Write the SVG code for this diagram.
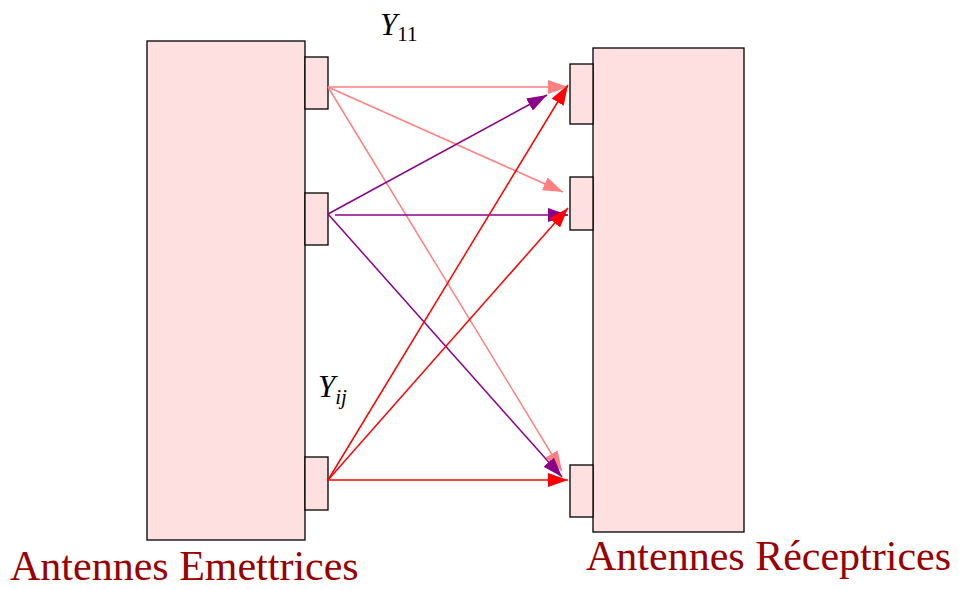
<svg xmlns="http://www.w3.org/2000/svg" width="959" height="590" viewBox="0 0 959 590">
<style>
.box{fill:#FFE0E0;stroke:#000;stroke-width:1.3}
.pk{stroke:#FF8080;stroke-width:1.5;fill:none}
.pu{stroke:#8B008B;stroke-width:1.5;fill:none}
.rd{stroke:#FF0000;stroke-width:1.5;fill:none}
.lbl{font-family:"Liberation Serif",serif;font-size:42px;fill:#990000}
.math{font-family:"Liberation Serif",serif;font-style:italic;fill:#000}
</style>
<defs>
<marker id="apk" markerUnits="userSpaceOnUse" markerWidth="22" markerHeight="14" refX="20" refY="7" orient="auto"><path d="M0,0 L20,7 L0,14 Z" fill="#FF8080"/></marker>
<marker id="apu" markerUnits="userSpaceOnUse" markerWidth="22" markerHeight="14" refX="20" refY="7" orient="auto"><path d="M0,0 L20,7 L0,14 Z" fill="#8B008B"/></marker>
<marker id="ard" markerUnits="userSpaceOnUse" markerWidth="22" markerHeight="14" refX="20" refY="7" orient="auto"><path d="M0,0 L20,7 L0,14 Z" fill="#FF0000"/></marker>
</defs>
<g id="emetteurs">
<rect class="box" x="147" y="41" width="158" height="499"/>
<rect class="box" x="305" y="57" width="23" height="52"/>
<rect class="box" x="305" y="193" width="23" height="52"/>
<rect class="box" x="305" y="457" width="23" height="53"/>
</g>
<g id="recepteurs">
<rect class="box" x="593" y="48" width="151" height="484"/>
<rect class="box" x="570" y="64" width="23" height="60"/>
<rect class="box" x="570" y="177" width="23" height="53"/>
<rect class="box" x="570" y="465" width="23" height="52"/>
</g>
<g id="connectors">
<line class="pk" x1="328" y1="87" x2="568" y2="87" marker-end="url(#apk)"/>
<line class="pk" x1="328" y1="87" x2="563" y2="192" marker-end="url(#apk)"/>
<line class="pk" x1="328" y1="87" x2="562" y2="471" marker-end="url(#apk)"/>
<line class="pu" x1="328" y1="214" x2="547" y2="95" marker-end="url(#apu)"/>
<line class="pu" x1="335" y1="215" x2="568" y2="215" marker-end="url(#apu)"/>
<line class="pu" x1="328" y1="214" x2="562" y2="477" marker-end="url(#apu)"/>
<line class="rd" x1="328" y1="480" x2="568" y2="85" marker-end="url(#ard)"/>
<line class="rd" x1="328" y1="480" x2="568" y2="208" marker-end="url(#ard)"/>
<line class="rd" x1="328" y1="480" x2="568" y2="480" stroke-width="2" marker-end="url(#ard)"/>
</g>
<g id="labels">
<text class="math" x="380" y="35" font-size="31">Y<tspan font-style="normal" font-size="21" dy="6">11</tspan></text>
<text class="math" x="318" y="397" font-size="31">Y<tspan font-size="21" dy="7">ij</tspan></text>
<text class="lbl" x="10" y="580">Antennes Emettrices</text>
<text class="lbl" x="586" y="570">Antennes Réceptrices</text>
</g>
</svg>
